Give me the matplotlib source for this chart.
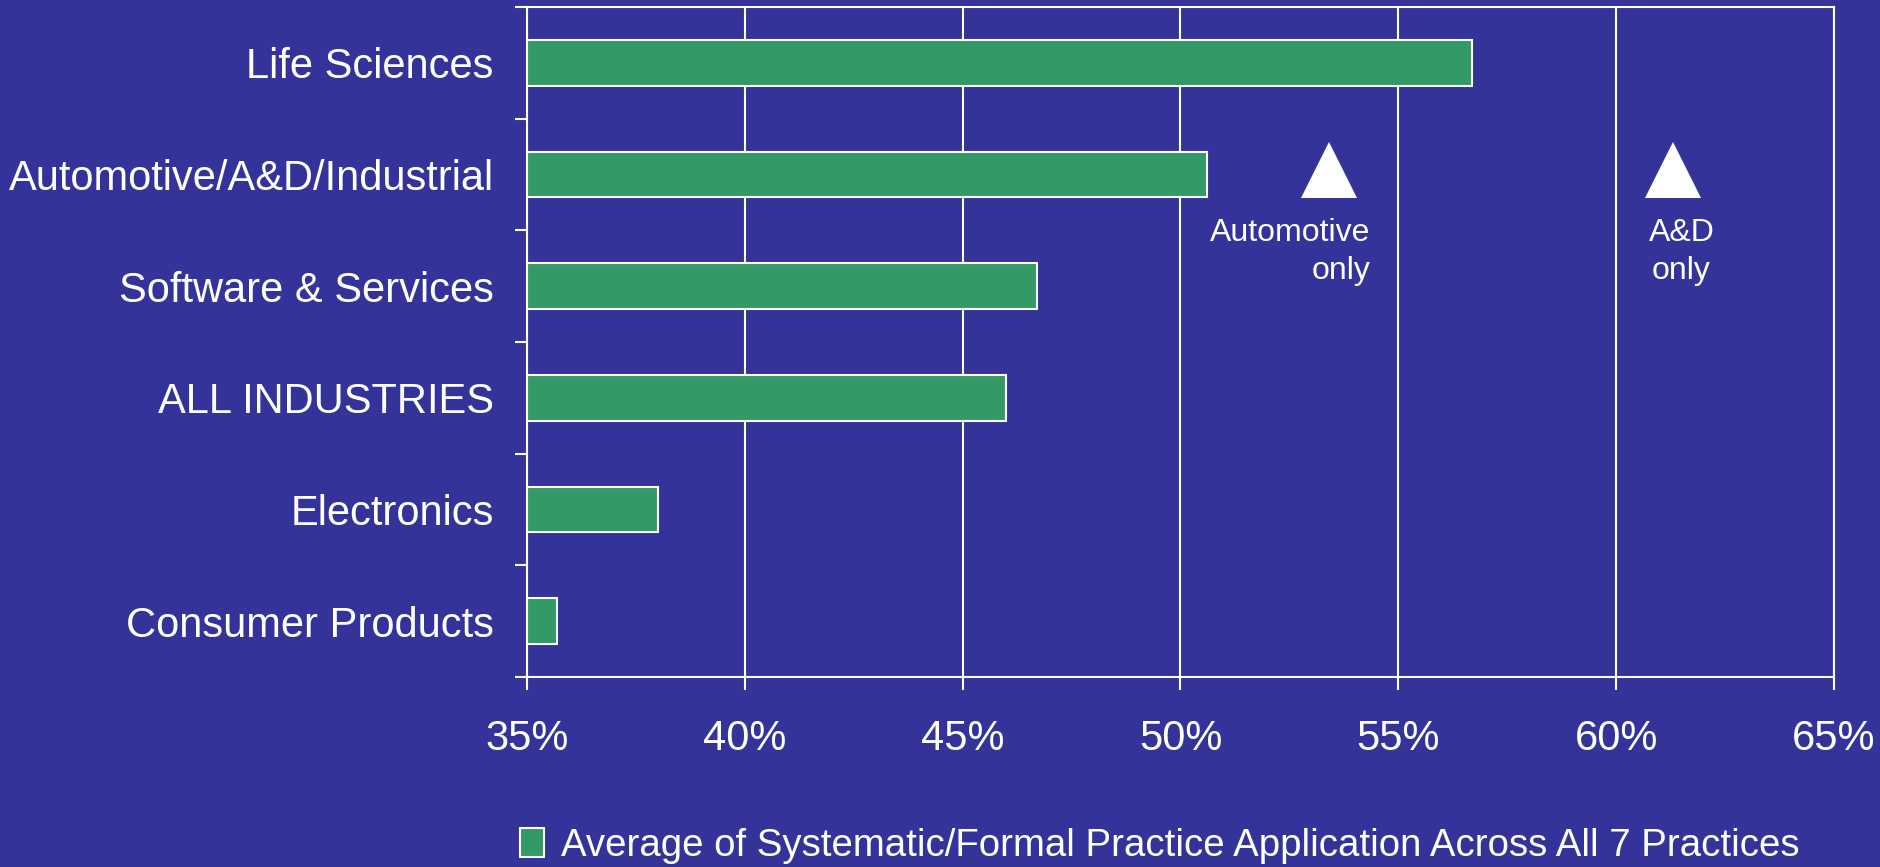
import numpy as np
import matplotlib
matplotlib.use('Agg')
import matplotlib.pyplot as plt
from matplotlib.ticker import FixedLocator, PercentFormatter

plt.rcParams['font.family'] = ['Liberation Sans', 'DejaVu Sans']

# data (top to bottom)
CATEGORIES = ['Life Sciences', 'Automotive/A&D/Industrial', 'Software & Services',
              'ALL INDUSTRIES', 'Electronics', 'Consumer Products']
VALUES = [56.7, 50.6, 46.7, 46.0, 38.0, 35.7]
SUB_LABELS = ['Automotive\nonly', 'A&D\nonly']
SUB_VALUES = [53.4, 61.3]
XTICKS = [35, 40, 45, 50, 55, 60, 65]
LEGEND_LABEL = 'Average of Systematic/Formal Practice Application Across All 7 Practices'

BG, GREEN, WHITE = '#333399', '#339966', '#ffffff'

fig = plt.figure(figsize=(18.81, 8.67), dpi=100)
fig.patch.set_facecolor(BG)
ax = fig.add_axes([527 / 1881, 1 - 677 / 867, (1834 - 527) / 1881, (677 - 7) / 867])
ax.set_facecolor(BG)

y = np.arange(len(CATEGORIES))
ax.barh(y, [v - XTICKS[0] for v in VALUES], left=XTICKS[0], height=0.41,
        color=GREEN, edgecolor=WHITE, linewidth=1.5, zorder=3, label=LEGEND_LABEL)

# "only" sub-segment markers sit on the Automotive/A&D/Industrial row
row = CATEGORIES.index('Automotive/A&D/Industrial')
ax.plot(SUB_VALUES, [row - 0.04] * len(SUB_VALUES), linestyle='none', marker='^',
        ms=40, color=WHITE, markeredgewidth=0, zorder=4, clip_on=False)
ax.text(SUB_VALUES[0] + 0.95, row + 0.39, SUB_LABELS[0], ha='right', va='top',
        multialignment='right', fontsize=23, color=WHITE, linespacing=1.36)
ax.text(SUB_VALUES[1] + 0.2, row + 0.39, SUB_LABELS[1], ha='center', va='top',
        multialignment='center', fontsize=23, color=WHITE, linespacing=1.36)

ax.set_xlim(XTICKS[0], XTICKS[-1])
ax.set_ylim(len(CATEGORIES) - 0.5, -0.5)
ax.set_xticks(XTICKS)
ax.xaxis.set_major_formatter(PercentFormatter(decimals=0))
ax.grid(axis='x', color=WHITE, lw=1.5, zorder=1)

ax.set_yticks(y)
ax.set_yticklabels(CATEGORIES)
ax.yaxis.set_minor_locator(FixedLocator(np.arange(-0.5, len(CATEGORIES), 1.0)))
ax.tick_params(axis='y', which='major', length=0, pad=24, labelsize=30, labelcolor=WHITE)
ax.tick_params(axis='y', which='minor', length=9, width=1.5, color=WHITE)
ax.tick_params(axis='x', length=9, width=1.5, color=WHITE, pad=21,
               labelsize=30, labelcolor=WHITE)
for side in ax.spines:
    ax.spines[side].set_color(WHITE)
    ax.spines[side].set_linewidth(1.5)

leg = fig.legend(loc='center left', bbox_to_anchor=(520 / 1881, 1 - 846 / 867),
                 frameon=False, fontsize=27.6, labelcolor=WHITE, handlelength=0.62,
                 handleheight=0.8, handletextpad=0.45, borderpad=0, borderaxespad=0)

fig.savefig('out.png', dpi=100, facecolor=BG)
